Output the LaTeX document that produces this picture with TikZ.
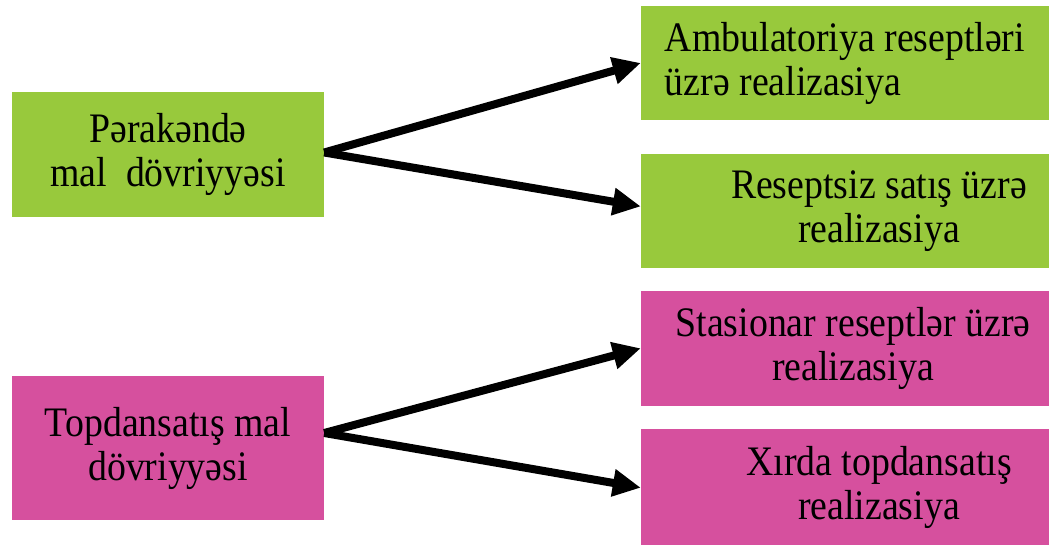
\documentclass[tikz,border=0pt]{standalone}
\usepackage{fontspec}
\setmainfont{Liberation Serif}[FakeStretch=0.9]
\usetikzlibrary{arrows.meta,positioning}
\definecolor{grn}{RGB}{152,201,60}
\definecolor{pnk}{RGB}{214,80,158}

\begin{document}
\begin{tikzpicture}[
x=1pt, y=1pt,
box/.style={inner sep=0pt, align=center, font=\fontsize{42}{44}\selectfont, minimum width=408pt, minimum height=114pt},
lbox/.style={box, minimum width=312pt},
txt/.style={inner sep=0pt, align=center, font=\fontsize{42}{44}\selectfont},
arr/.style={-{Triangle[length=28pt,width=26pt]}, line width=8pt}
]
\useasboundingbox (0,0) rectangle (1049,545);
% left side
\node[lbox, fill=grn, minimum height=125pt] (perak) at (168,390.5) {Pərakəndə\\mal\ \ dövriyyəsi};
\node[lbox, fill=pnk, minimum height=144pt] (topd) at (168,97) {Topdansatış mal\\dövriyyəsi};
% right side
\node[box, fill=grn, align=left] (amb) at (845,482) {Ambulatoriya reseptləri\\üzrə realizasiya};
\node[box, fill=grn, below=34pt of amb, label={[txt, xshift=34pt]center:Reseptsiz satış üzrə\\realizasiya}] (resept) {};
\node[box, fill=pnk, below=22pt of resept, minimum height=115pt, label={[txt, xshift=8pt]center:Stasionar reseptlər üzrə\\realizasiya}] (stas) {};
\node[box, fill=pnk, below=23pt of stas, minimum height=117pt, label={[txt, xshift=34pt]center:Xırda topdansatış\\realizasiya}] (xirda) {};
% arrows
\draw[arr] ([yshift=2pt]perak.east) -- (amb.west);
\draw[arr] ([yshift=2pt]perak.east) -- ([yshift=5pt]resept.west);
\draw[arr] ([yshift=15pt]topd.east) -- (stas.west);
\draw[arr] ([yshift=15pt]topd.east) -- (xirda.west);
\end{tikzpicture}
\end{document}
